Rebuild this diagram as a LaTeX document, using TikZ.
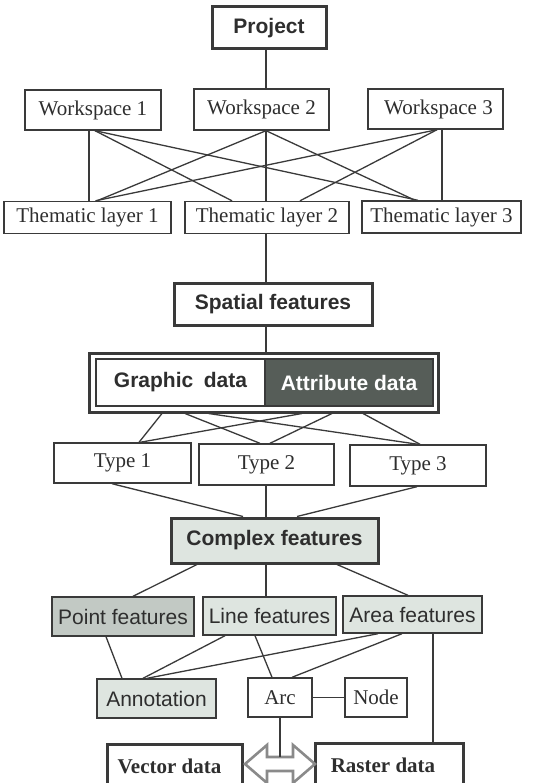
\documentclass[tikz,border=0pt]{standalone}
\usepackage{fontspec}
\setmainfont{Liberation Serif}
\newfontfamily\arialfont{Liberation Sans}
\definecolor{ink}{HTML}{3A3A3A}
\definecolor{txt}{HTML}{2E2E2E}
\definecolor{palefill}{HTML}{DEE5E0}
\definecolor{midfill}{HTML}{C2C9C4}
\definecolor{darkfill}{HTML}{565D58}
\definecolor{arrowgray}{HTML}{8A8A8A}
\tikzset{
  base/.style={draw=ink, text=txt, inner sep=0pt, align=center,
    font=\fontsize{21}{24}\selectfont},
  thinbox/.style={base, line width=1.4pt},
  thickbox/.style={base, line width=3pt},
  serifbox/.style={thinbox},
  sansbox/.style={thinbox, font=\arialfont\fontsize{21}{24}\selectfont},
  boldsans/.style={thickbox, font=\arialfont\bfseries\fontsize{21}{24}\selectfont},
  boldserif/.style={thickbox, font=\bfseries\fontsize{21}{24}\selectfont},
  link/.style={draw=ink, line width=1.3pt},
  sz/.style 2 args={minimum width=#1, minimum height=#2},
}
\begin{document}
\begin{tikzpicture}[x=1pt, y=-1pt]
\useasboundingbox (0,0) rectangle (551,783);
\clip (0,0) rectangle (551,783);
\fill[white] (0,0) rectangle (551,783);

% top levels
\node[boldsans, sz={114}{42}] (project) at (269,28) {Project};
\node[serifbox, sz={136}{40}] (ws1) at (93,110) {Workspace 1};
\node[serifbox, sz={135}{41}] (ws2) at (261.5,109.5) {Workspace 2};
\node[serifbox, sz={135}{40}] (ws3) at (435.5,109) {\hspace{6pt}Workspace 3};
\node[serifbox, sz={167}{32}] (tl1) at (87.5,217.5) {Thematic layer 1};
\node[serifbox, sz={164}{32}] (tl2) at (267,217.5) {Thematic layer 2};
\node[serifbox, sz={159}{32}] (tl3) at (441.5,217) {Thematic layer 3};
\node[boldsans, sz={198}{42}] (spatial) at (273,304) {Spatial features};

% graphic / attribute double box
\node[thickbox, sz={349}{59}] (gabox) at (263.5,382.5) {};
\node[base, line width=1.8pt, sz={169}{47},
      font=\arialfont\bfseries\fontsize{21}{24}\selectfont]
      (graphic) at (180.5,382.5) {Graphic\hspace{0.5em}data};
\node[base, line width=1.8pt, sz={168}{47}, fill=darkfill, text=white,
      font=\arialfont\bfseries\fontsize{21}{24}\selectfont]
      (attribute) at (349,382.5) {Attribute data};

% types
\node[serifbox, sz={137}{40}] (type1) at (122.5,463) {Type 1};
\node[serifbox, sz={135}{41}] (type2) at (266.5,464.5) {Type 2};
\node[serifbox, sz={136}{41}] (type3) at (418,465.5) {Type 3};

% feature classes
\node[boldsans, sz={207}{45}, fill=palefill] (complex) at (274.5,540.5) {Complex features};
\node[sansbox, sz={142}{39}, fill=midfill] (point) at (123,616.5) {Point features};
\node[sansbox, sz={133}{38}, fill=palefill] (line) at (269.5,616) {Line features};
\node[sansbox, sz={139}{37}, fill=palefill] (area) at (412.5,614.5) {Area features};
\node[sansbox, sz={119}{39}, fill=palefill] (annot) at (156.5,698.5) {Annotation};
\node[serifbox, sz={64}{39}] (arc) at (280,697.5) {Arc};
\node[serifbox, sz={62}{39}] (nodebox) at (376,697.5) {Node};

% data models
\node[boldserif, sz={135}{46}] (vector) at (174.5,767) {\raisebox{2pt}{Vector data}\hspace{10pt}};
\node[boldserif, sz={148}{46}] (raster) at (389,766) {\raisebox{2pt}{Raster data}\hspace{12pt}};

% hollow two-way arrow between the data models
\draw[draw=arrowgray, line width=2.6pt, line join=miter, fill=white]
  (245,764) -- (267,745) -- (267,757) -- (293,757) -- (293,745) -- (315,764)
  -- (293,783) -- (293,771) -- (267,771) -- (267,783) -- cycle;
\coordinate (shafttop) at (280,757);

% project -> workspaces
\draw[link] ([xshift=-3]project.south) -- ([xshift=4.5]ws2.north);

% workspaces -> thematic layers
\draw[link] ([xshift=-4]ws1.south) -- ([xshift=1.5]tl1.north);
\draw[link] ([xshift=2]ws1.south) -- ([xshift=-35]tl2.north);
\draw[link] ([xshift=2]ws1.south) -- ([xshift=-23.5]tl3.north);
\draw[link] ([xshift=4.5]ws2.south) -- ([xshift=9.5]tl1.north);
\draw[link] ([xshift=4.5]ws2.south) -- ([xshift=-1]tl2.north);
\draw[link] ([xshift=4.5]ws2.south) -- ([xshift=-26.5]tl3.north);
\draw[link] ([xshift=1.5]ws3.south) -- ([xshift=8]tl1.north);
\draw[link] ([xshift=1.5]ws3.south) -- ([xshift=33]tl2.north);
\draw[link] ([xshift=6.5]ws3.south) -- ([xshift=0.5]tl3.north);

% thematic layer -> spatial features -> graphic/attribute
\draw[link] ([xshift=-1]tl2.south) -- ([xshift=-7]spatial.north);
\draw[link] ([xshift=-7]spatial.south) -- ([xshift=2.5]gabox.north);

% graphic/attribute -> types
\draw[link] ([xshift=-101.5]gabox.south) -- ([xshift=16.5]type1.north);
\draw[link] ([xshift=-78.5]gabox.south) -- ([xshift=-6.5]type2.north);
\draw[link] ([xshift=-55]gabox.south) -- ([xshift=0]type3.north);
\draw[link] ([xshift=38.5]gabox.south) -- ([xshift=17.5]type1.north);
\draw[link] ([xshift=68.5]gabox.south) -- ([xshift=3.5]type2.north);
\draw[link] ([xshift=99.5]gabox.south) -- ([xshift=2]type3.north);

% types -> complex features
\draw[link] ([xshift=-10.5]type1.south) -- ([xshift=-31.5]complex.north);
\draw[link] ([xshift=-0.5]type2.south) -- ([xshift=-8.5]complex.north);
\draw[link] ([xshift=-1]type3.south) -- ([xshift=22.5]complex.north);

% complex features -> feature classes
\draw[link] ([xshift=-77.5]complex.south) -- ([xshift=10]point.north);
\draw[link] ([xshift=-8.5]complex.south) -- ([xshift=-3.5]line.north);
\draw[link] ([xshift=62.5]complex.south) -- ([xshift=-4.5]area.north);

% feature classes -> annotation, arc, raster
\draw[link] ([xshift=-17]point.south) -- ([xshift=-34.5]annot.north);
\draw[link] ([xshift=-44.5]line.south) -- ([xshift=-13.5]annot.north);
\draw[link] ([xshift=-34.5]area.south) -- ([xshift=-9.5]annot.north);
\draw[link] ([xshift=-14.5]line.south) -- ([xshift=-8]arc.north);
\draw[link] ([xshift=-10.5]area.south) -- ([xshift=12]arc.north);
\draw[link] (arc.east) -- (nodebox.west);
\draw[link] ([xshift=20.5]area.south) -- ([xshift=44]raster.north);
\draw[link] (arc.south) -- (shafttop);
\end{tikzpicture}
\end{document}
